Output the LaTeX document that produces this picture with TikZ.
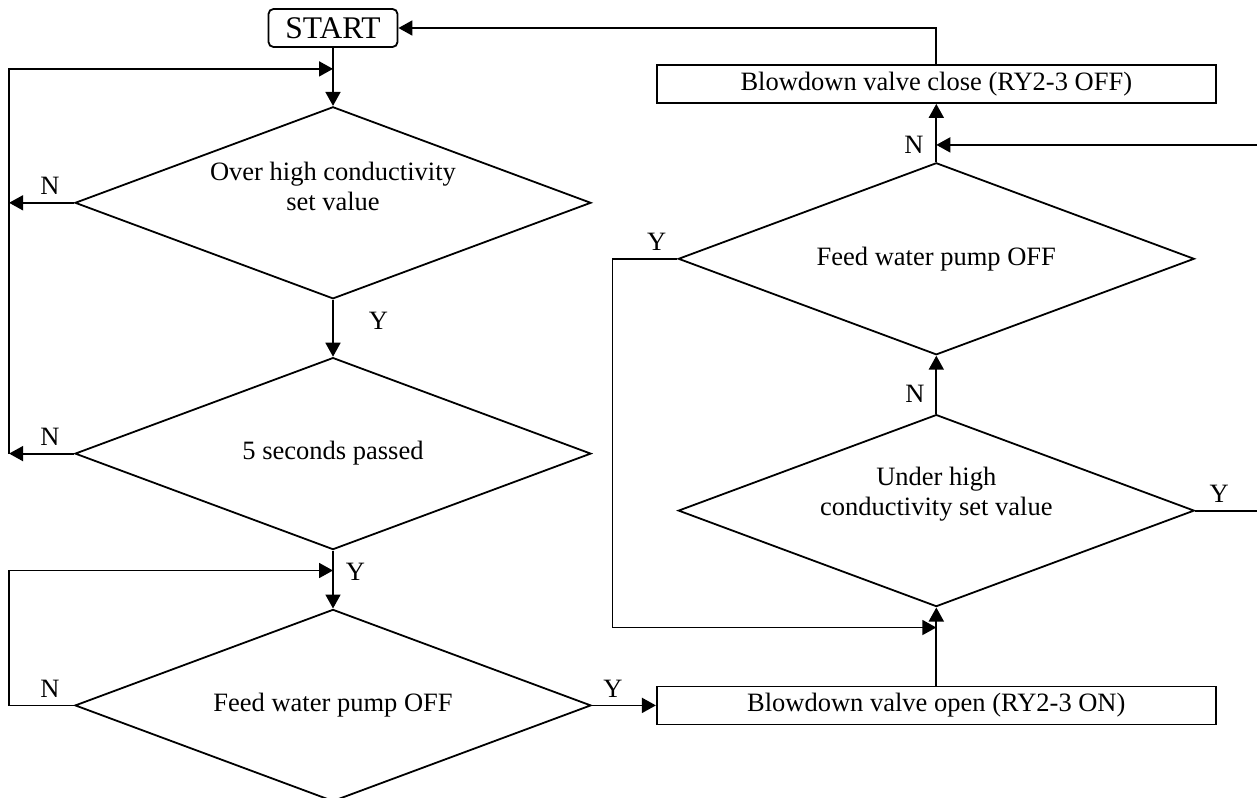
\documentclass[tikz,border=0pt]{standalone}
\usepackage{fontspec}
\setmainfont{Liberation Serif}
\usetikzlibrary{arrows.meta, positioning, shapes.geometric}

\begin{document}
\begin{tikzpicture}[
    node distance=58pt,
    every node/.style={font=\fontsize{26.5}{30}\selectfont},
    flow/.style={line width=1.8pt},
    arrow/.style={flow, -{Triangle[length=14pt, width=15pt]}},
    startbox/.style={draw, line width=1.8pt, rounded corners=5pt, minimum width=129pt, minimum height=38pt, inner sep=0pt, font=\fontsize{31.5}{34}\selectfont},
    box/.style={draw, line width=1.8pt, minimum width=559pt, minimum height=38pt, inner sep=0pt},
    decision/.style={draw, diamond, line width=1.8pt, minimum width=516pt, minimum height=192pt, inner sep=0pt},
    dtext/.style={align=center},
    twolines/.style={dtext, yshift=16pt},
    yn/.style={inner sep=7pt},
]
    \useasboundingbox (0,0) rectangle (1257pt,-797pt);

    \node[startbox] (start) at (333pt,-28pt) {START};
    \node[decision, below=of start, label={[twolines]center:{Over high conductivity\\ set value}}] (d1) {};
    \node[decision, below=57pt of d1, label={[dtext]center:5 seconds passed}] (d2) {};
    \node[decision, below=of d2, label={[dtext]center:Feed water pump OFF}] (d3) {};
    \node[box, right=64pt of d3] (open) {Blowdown valve open (RY2-3 ON)};
    \node[decision, above=78pt of open, label={[twolines]center:{Under high\\ conductivity set value}}] (d5) {};
    \node[decision, above=58pt of d5, label={[dtext]center:Feed water pump OFF}] (d4) {};
    \node[box, above=of d4] (close) {Blowdown valve close (RY2-3 OFF)};

    % joints of the loops
    \coordinate[below=21pt of start.south] (join1);
    \coordinate[left=65pt of d1.west] (nleft);
    \coordinate[below=20pt of d2.south] (join3);
    \coordinate[above=17pt of d4.north] (join4);
    \coordinate[below=20pt of d5.south] (join5);
    \coordinate[left=65pt of d4.west] (yleft);
    \coordinate[right=64pt of d5.east] (yright);

    % left column
    \draw[arrow] (start) -- (d1);
    \draw[arrow] (d1.west) -- node[yn, above, pos=0.37] {N} (nleft);
    \draw[arrow] (d2.west) -- node[yn, above, pos=0.37] {N} (d2.west -| nleft);
    \draw[arrow] (d2.west -| nleft) -- (join1 -| nleft) -- (join1);
    \draw[arrow] (d1) -- node[yn, right=28pt, pos=0.37] {Y} (d2);
    \draw[arrow] (d2) -- node[yn, right=5pt, pos=0.36] {Y} (d3);
    \draw[arrow] (d3.west) -- node[yn, above, pos=0.37] {N} (d3.west -| nleft) -- (join3 -| nleft) -- (join3);
    \draw[arrow] (d3) -- node[yn, above, pos=0.33] {Y} (open);

    % right column
    \draw[arrow] (open) -- (d5);
    \draw[arrow] (d4.west) -- node[yn, above, pos=0.32] {Y} (yleft) |- (join5);
    \draw[flow] (d5.east) -- node[yn, above, pos=0.375] {Y} (yright);
    \draw[arrow] (d5) -- node[yn, left=4pt, pos=0.34] {N} (d4);
    \draw[arrow] (yright |- join4) -- (join4) node[yn, left=5pt] {N};
    \draw[arrow] (d4) -- (close);
    \draw[arrow] (close) |- (start);
\end{tikzpicture}
\end{document}
